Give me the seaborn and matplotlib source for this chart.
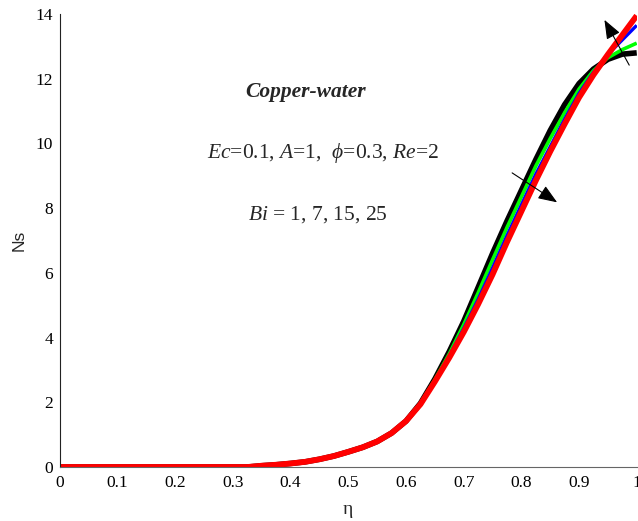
import numpy as np
import pandas as pd
import matplotlib
matplotlib.use("Agg")
import matplotlib.pyplot as plt
import seaborn as sns

sns.set_style("white")
plt.rcParams['font.family'] = ['Liberation Serif', 'DejaVu Serif']
plt.rcParams['mathtext.fontset'] = 'custom'
plt.rcParams['mathtext.rm'] = 'Liberation Serif'
plt.rcParams['mathtext.it'] = 'Liberation Serif:italic'
plt.rcParams['mathtext.bf'] = 'Liberation Serif:bold'

eta = [0.0, 0.025, 0.05, 0.075, 0.1, 0.125, 0.15, 0.175, 0.2, 0.225, 0.25, 0.275, 0.3, 0.325, 0.35,
       0.375, 0.4, 0.425, 0.45, 0.475, 0.5, 0.525, 0.55, 0.575, 0.6, 0.625, 0.65, 0.675, 0.7,
       0.725, 0.75, 0.775, 0.8, 0.825, 0.85, 0.875, 0.9, 0.925, 0.95, 0.975, 1.0]

low = [0, 0, 0, 0, 0, 0, 0, 0, 0, 0, 0, 0, 0, 0, 0.04,
       0.07, 0.11, 0.16, 0.24, 0.34, 0.47, 0.61, 0.79, 1.05, 1.42]

ns_bi1 = low + [1.97, 2.72, 3.57, 4.50, 5.55, 6.60, 7.60, 8.55, 9.50, 10.40, 11.20, 11.85, 12.30, 12.60, 12.76, 12.80]
ns_bi7 = low + [1.96, 2.70, 3.50, 4.40, 5.38, 6.40, 7.40, 8.35, 9.30, 10.15, 10.95, 11.68, 12.25, 12.65, 12.90, 13.10]
ns_bi15 = low + [1.95, 2.67, 3.44, 4.28, 5.18, 6.15, 7.15, 8.10, 9.05, 9.90, 10.75, 11.55, 12.20, 12.75, 13.20, 13.65]
ns_bi25 = low + [1.94, 2.64, 3.38, 4.17, 5.03, 5.95, 6.95, 7.90, 8.85, 9.75, 10.60, 11.42, 12.12, 12.75, 13.35, 13.95]

bi_values = [1, 7, 15, 25]
colors = ['#000000', '#00ff00', '#0000ff', '#ff0000']
widths = [4.0, 2.6, 2.4, 4.2]

series = [ns_bi1, ns_bi7, ns_bi15, ns_bi25]

fig = plt.figure(figsize=(6.38, 5.21), dpi=100)
ax = fig.add_axes([0.094, 0.1036, 0.904, 0.8695])

for bi, vals, c, w in zip(bi_values, series, colors, widths):
    df = pd.DataFrame({'eta': eta, 'Ns': vals})
    sns.lineplot(data=df, x='eta', y='Ns', color=c, linewidth=w, ax=ax,
                 legend=False, solid_capstyle='butt', solid_joinstyle='round')

ax.set_xlim(0, 1)
ax.set_ylim(0, 14)
ax.set_xticks(np.arange(0, 1.01, 0.1))
ax.set_xticklabels(['0', '0.1', '0.2', '0.3', '0.4', '0.5', '0.6', '0.7', '0.8', '0.9', '1'])
ax.set_yticks(np.arange(0, 15, 2))
ax.set_yticklabels([str(v) for v in range(0, 15, 2)])
ax.tick_params(axis='both', direction='in', length=4, width=0.8, labelsize=12.5,
               colors='#333333', labelcolor='black')
ax.tick_params(axis='x', pad=6)
ax.tick_params(axis='y', pad=5)
for s in ['top', 'right']:
    ax.spines[s].set_visible(False)
ax.spines['left'].set_color('#222222')
ax.spines['bottom'].set_color('#666666')
ax.spines['left'].set_linewidth(0.8)
ax.spines['bottom'].set_linewidth(0.8)

ax.set_xlabel('η', fontsize=14)
ax.xaxis.set_label_coords(0.499, -0.076)
ax.set_ylabel('Ns', fontsize=12.5, family=['Liberation Sans', 'DejaVu Sans'])
ax.yaxis.set_label_coords(-0.058, 0.5)

ax.text(0.426, 11.6, 'Copper-water', fontsize=15.5, fontweight='bold', fontstyle='italic',
        ha='center', va='center')
ax.text(0.457, 9.72, r'$Ec$=0.1, $A$=1,  $\phi$=0.3, $Re$=2', fontsize=15.5,
        ha='center', va='center')
ax.text(0.448, 7.8, r'$Bi$ = 1, 7, 15, 25', fontsize=15.5, ha='center', va='center')

arrow_kw = dict(arrowstyle='-|>,head_length=0.9,head_width=0.35', color='black',
                lw=0.8, mutation_scale=13, shrinkA=0, shrinkB=0)
ax.annotate('', xy=(0.862, 8.18), xytext=(0.784, 9.09), arrowprops=arrow_kw)
ax.annotate('', xy=(0.944, 13.82), xytext=(0.987, 12.42), arrowprops=arrow_kw)

fig.savefig('out.png', dpi=100)
